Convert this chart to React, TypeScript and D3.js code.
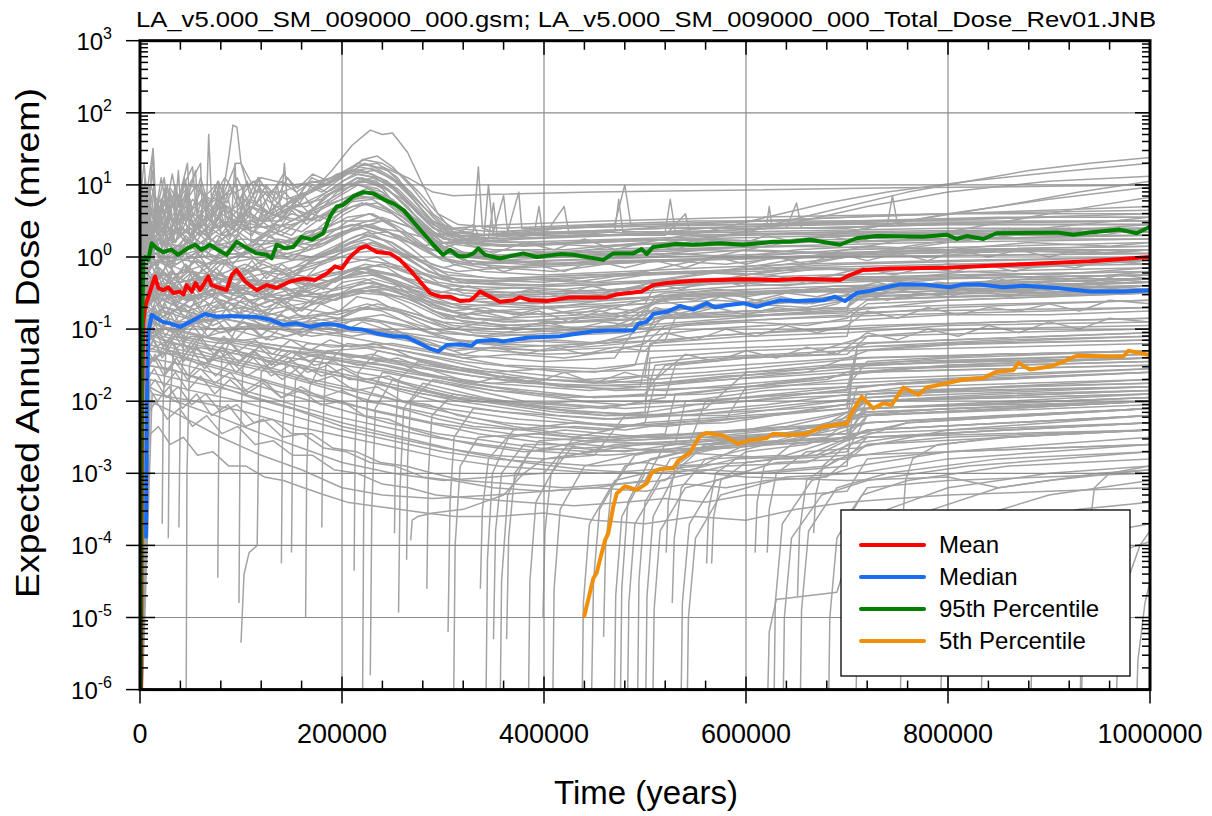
import React from "react";
import * as d3 from "d3";

// ---------- DATA (time in thousands of years, value = log10 of dose in mrem) ----------
const titleText = "LA_v5.000_SM_009000_000.gsm; LA_v5.000_SM_009000_000_Total_Dose_Rev01.JNB";
const xTickValues = [0, 200000, 400000, 600000, 800000, 1000000];
const yDecades = [-6, -5, -4, -3, -2, -1, 0, 1, 2, 3];
const legendLabels = ["Mean", "Median", "95th Percentile", "5th Percentile"];

const meanSeries = [0.8,-7, 2,-2.0, 3.3,-0.9, 5,-0.69, 9.9,-0.48, 14.9,-0.27, 18.1,-0.43, 23,-0.46, 28,-0.42, 32.9,-0.50, 39.6,-0.48, 43,-0.52, 46.2,-0.39, 51.2,-0.48, 55,-0.36, 59.4,-0.46, 67.6,-0.27, 70.9,-0.39, 79.2,-0.43, 85.8,-0.46, 90.8,-0.25, 95.7,-0.18, 104,-0.34, 115.5,-0.46, 125.4,-0.39, 135.3,-0.43, 148.5,-0.34, 161.7,-0.30, 173.3,-0.32, 184.9,-0.23, 193.1,-0.13, 199.7,-0.16, 207.9,0.0, 217.8,0.12, 224.4,0.15, 234.4,0.07, 247.5,0.05, 257.4,-0.04, 267.3,-0.18, 277.2,-0.34, 287.1,-0.50, 297,-0.55, 306.9,-0.55, 316.8,-0.61, 326.7,-0.60, 330,-0.57, 336.6,-0.48, 346.5,-0.55, 356.4,-0.62, 369.6,-0.60, 376.2,-0.56, 386.1,-0.60, 402.6,-0.61, 425.7,-0.56, 462,-0.56, 471.9,-0.52, 496.7,-0.48, 508.2,-0.39, 521.5,-0.36, 547.8,-0.33, 597.3,-0.31, 630.4,-0.32, 653.5,-0.30, 693.1,-0.32, 702.9,-0.25, 716.1,-0.18, 742.6,-0.16, 798.7,-0.15, 874.6,-0.10, 940.6,-0.06, 1000,0.0];

const medianSeries = [6.0,-3.88, 6.8,-2.0, 8.2,-1.06, 11.6,-0.80, 16.5,-0.85, 23,-0.90, 29.4,-0.92, 39.6,-0.97, 49.5,-0.90, 64.4,-0.79, 76,-0.83, 89.1,-0.82, 102.3,-0.83, 115.5,-0.83, 128.7,-0.87, 141.9,-0.94, 155.1,-0.92, 168.3,-0.97, 181.5,-0.93, 194.7,-0.94, 207.9,-0.99, 221.1,-1.01, 234.3,-1.06, 250.8,-1.10, 264,-1.11, 277.2,-1.20, 287.1,-1.27, 295.3,-1.31, 303.6,-1.22, 316.8,-1.21, 328.4,-1.23, 333.4,-1.17, 349.8,-1.15, 359.7,-1.17, 382.9,-1.12, 415.8,-1.10, 448.8,-1.03, 465.3,-1.02, 488.4,-1.02, 493.4,-0.93, 501.7,-0.90, 508.2,-0.79, 521.5,-0.76, 534.7,-0.68, 547.8,-0.73, 561.1,-0.64, 569.3,-0.70, 580.9,-0.67, 597.3,-0.64, 610.6,-0.69, 633.7,-0.60, 650,-0.61, 676.5,-0.60, 688,-0.55, 698,-0.61, 709.6,-0.50, 722.8,-0.47, 742.6,-0.41, 752.5,-0.38, 775.5,-0.38, 802,-0.42, 815.1,-0.38, 831.7,-0.38, 854.8,-0.42, 874.6,-0.40, 907.6,-0.43, 940.6,-0.48, 973.6,-0.48, 1000,-0.46];

const p95Series = [0.3,-7, 1.5,-1.5, 3.3,-0.04, 5,0.0, 8.2,-0.04, 11.6,0.19, 16.5,0.12, 23,0.07, 31.4,0.10, 37.6,0.03, 47.5,0.125, 54.5,0.17, 61,0.10, 69.3,0.17, 77,0.10, 85.8,0.03, 95.7,0.21, 104,0.14, 115.5,0.05, 125.4,0.03, 130.4,-0.02, 135.3,0.17, 143.6,0.12, 151.8,0.14, 160,0.28, 170,0.24, 181.5,0.33, 188,0.56, 194.7,0.70, 201,0.72, 211,0.84, 221,0.90, 231,0.88, 241,0.80, 251,0.74, 261,0.65, 270.6,0.49, 280.5,0.33, 290.4,0.17, 300,0.03, 307,0.10, 315,0.01, 323.5,0.01, 330,0.05, 335,0.12, 341.6,0.03, 356,-0.02, 379.5,0.05, 392.8,0.0, 415.8,0.04, 429,0.03, 458.7,-0.04, 468.6,0.05, 488.4,0.05, 496.7,0.11, 501.7,0.04, 508,0.14, 531.4,0.18, 547.8,0.17, 574.3,0.19, 597.3,0.17, 627,0.21, 643.6,0.21, 663.4,0.24, 693,0.17, 709.6,0.26, 729.4,0.29, 775.5,0.28, 798.7,0.31, 808.6,0.25, 818.5,0.29, 835,0.25, 848,0.33, 907.6,0.34, 924,0.31, 940.6,0.34, 970,0.38, 986.8,0.33, 1000,0.42];

const p5Series = [439.9,-4.98, 448.8,-4.46, 452.2,-4.38, 455.4,-4.20, 460.4,-3.93, 463.7,-3.83, 468.6,-3.46, 472,-3.28, 480.2,-3.18, 491.8,-3.23, 501.7,-3.14, 506.6,-2.99, 514.9,-2.94, 528,-2.93, 533,-2.82, 544.6,-2.71, 554.5,-2.48, 561.1,-2.44, 577.5,-2.48, 592.4,-2.59, 600.7,-2.55, 620.5,-2.51, 627,-2.45, 643.6,-2.47, 660.1,-2.45, 676.5,-2.35, 699.7,-2.31, 706.2,-2.12, 714.6,-1.94, 726,-2.10, 736,-2.03, 744.3,-2.05, 755.7,-1.81, 770.6,-1.91, 778.9,-1.81, 798.7,-1.75, 815.1,-1.70, 835,-1.68, 848.2,-1.59, 864.7,-1.57, 869.6,-1.47, 881.2,-1.56, 901,-1.52, 914.2,-1.45, 927.4,-1.37, 973.6,-1.38, 978.5,-1.30, 1000,-1.36];

// Individual realizations (gray), grouped by appearance
const highEarly = [
  [0,-7, 3,0.2, 10,0.4, 20,0.1, 35,0.5, 50,0.3, 70,0.6, 90,0.4, 110,0.7, 130,0.5, 150,0.8, 170,0.9, 190,1.2, 210,1.55, 228,1.76, 240,1.7, 250,1.72, 265,1.45, 280,1.0, 295,0.6, 310,0.35, 330,0.2, 380,0.15, 450,0.2, 550,0.25, 650,0.2, 800,0.25, 1000,0.3],
  [0,-7, 4,0.0, 12,0.5, 25,0.3, 40,0.6, 60,0.4, 80,0.7, 88,1.4, 92,1.83, 96,1.8, 100,1.3, 110,0.8, 130,0.6, 150,0.5, 175,0.7, 200,0.9, 220,1.1, 240,0.95, 260,0.6, 280,0.3, 300,0.1, 340,0.0, 420,0.05, 520,0.1, 650,0.15, 800,0.1, 1000,0.15],
  [0,-7, 2,0.3, 8,1.0, 13,1.5, 16,0.6, 30,0.8, 45,0.5, 60,0.9, 75,0.6, 95,1.3, 100,1.3, 115,0.9, 140,0.9, 160,1.0, 190,1.1, 210,1.25, 235,1.3, 255,1.1, 270,0.8, 290,0.5, 310,0.35, 350,0.3, 450,0.35, 550,0.3, 700,0.35, 850,0.3, 1000,0.4],
  [0,-7, 3,0.0, 15,0.4, 30,0.7, 50,1.0, 70,0.8, 95,0.9, 120,1.1, 150,1.0, 180,1.05, 210,1.2, 240,1.25, 265,1.1, 290,0.9, 310,0.85, 350,0.87, 450,0.9, 600,0.93, 750,0.96, 900,0.98, 1000,1.0],
  [0,-7, 2,-0.5, 10,0.2, 20,0.6, 28,0.2, 47,1.3, 50,0.5, 65,0.3, 68,1.7, 72,0.4, 90,0.5, 110,0.3, 130,0.6, 160,0.5, 190,0.9, 215,1.1, 240,1.0, 265,0.7, 285,0.35, 300,0.1, 330,-0.1, 400,-0.05, 500,0.0, 600,0.1, 700,0.05, 800,0.1, 1000,0.05],
  [0,-7, 5,0.6, 12,0.2, 22,0.8, 35,0.4, 45,0.9, 60,1.3, 62,0.5, 80,0.7, 100,0.5, 125,0.9, 140,0.7, 165,0.9, 195,1.15, 220,1.2, 245,1.05, 270,0.7, 290,0.4, 320,0.25, 380,0.3, 460,0.35, 540,0.45, 620,0.5, 700,0.55, 800,0.6, 900,0.65, 1000,0.7],
  [0,-7, 3,0.1, 10,0.3, 20,0.0, 35,0.4, 50,0.1, 70,0.5, 90,0.2, 110,0.5, 140,0.3, 170,0.6, 200,0.8, 225,0.95, 250,0.8, 275,0.5, 300,0.2, 330,0.0, 400,-0.1, 500,-0.05, 600,0.0, 700,0.1, 850,0.15, 1000,0.2],
  [0,-7, 2,0.4, 9,0.7, 18,0.3, 30,0.9, 38,0.5, 55,0.7, 75,1.0, 85,0.6, 105,0.8, 130,0.6, 155,0.8, 185,1.0, 205,1.2, 230,1.15, 250,1.0, 275,0.6, 300,0.3, 330,0.2, 380,0.25, 480,0.3, 560,0.4, 650,0.45, 760,0.5, 880,0.55, 1000,0.6],
  [0,-7, 4,-0.3, 15,0.2, 30,-0.1, 45,0.3, 65,0.0, 85,0.4, 105,0.1, 130,0.35, 160,0.2, 185,0.5, 210,0.7, 235,0.75, 260,0.5, 285,0.2, 310,-0.1, 340,-0.2, 400,-0.25, 480,-0.2, 560,-0.15, 650,-0.1, 800,-0.05, 1000,0.0],
  [0,-7, 1,0.5, 6,0.9, 14,0.5, 24,1.1, 28,0.6, 40,0.9, 52,1.25, 56,0.6, 75,0.8, 98,0.6, 120,1.0, 145,0.8, 175,0.95, 200,1.1, 222,1.3, 245,1.2, 268,0.9, 290,0.55, 310,0.3, 340,0.3, 420,0.4, 500,0.45, 600,0.5, 700,0.55, 800,0.6, 1000,0.65],
  [0,-7, 3,0.2, 11,0.6, 19,0.4, 27,1.0, 31,0.5, 45,0.7, 62,0.5, 78,0.8, 96,1.0, 100,0.6, 120,0.5, 150,0.7, 180,0.8, 205,1.0, 230,1.1, 255,0.95, 280,0.6, 300,0.35, 320,0.2, 360,0.15, 420,0.2, 500,0.25, 600,0.2, 700,0.25, 850,0.3, 1000,0.3],
  [0,-7, 4,0.4, 12,0.0, 25,0.5, 35,0.2, 50,0.6, 68,0.3, 85,0.7, 105,0.4, 125,0.8, 145,0.6, 165,1.0, 180,0.9, 200,1.1, 220,1.35, 235,1.4, 250,1.25, 270,0.95, 290,0.6, 310,0.4, 350,0.35, 420,0.4, 500,0.45, 600,0.45, 750,0.5, 900,0.55, 1000,0.55],
  [0,-7, 2,0.0, 7,0.5, 15,0.2, 22,0.7, 26,0.3, 38,0.4, 48,0.2, 60,0.5, 80,0.3, 100,0.5, 125,0.4, 150,0.6, 178,0.5, 200,0.7, 225,0.9, 250,0.75, 275,0.45, 300,0.15, 330,0.0, 380,0.05, 450,0.1, 550,0.15, 650,0.2, 800,0.25, 1000,0.3],
  [0,-7, 5,0.3, 20,0.5, 40,0.3, 60,0.6, 80,0.4, 100,0.7, 120,0.5, 140,0.8, 143,1.3, 146,0.7, 165,0.6, 190,0.9, 215,1.0, 240,0.9, 265,0.6, 290,0.3, 320,0.2, 340,0.2, 345,1.0, 350,0.3, 400,0.3, 420,0.7, 425,0.3, 520,0.3, 540,0.6, 545,0.3, 700,0.35, 1000,0.4],
  [0,-7, 1,-0.3, 6,0.2, 16,-0.1, 26,0.3, 42,0.0, 58,0.35, 72,0.1, 92,0.4, 112,0.2, 135,0.45, 160,0.35, 185,0.6, 210,0.85, 232,0.9, 255,0.7, 280,0.35, 305,0.1, 330,-0.1, 380,-0.15, 450,-0.1, 540,-0.05, 640,0.0, 760,0.05, 880,0.1, 1000,0.1],
  [0,-7, 2,0.4, 6,0.8, 9,0.4, 14,0.9, 19,0.5, 24,0.95, 29,0.55, 35,1.0, 41,0.6, 47,0.9, 53,0.55, 60,1.0, 67,0.65, 74,0.95, 81,0.6, 89,1.0, 97,0.7, 106,1.05, 115,0.75, 125,1.0, 135,0.8, 146,1.1, 157,0.85, 170,1.1, 185,1.0, 200,1.15, 215,1.3, 232,1.25, 250,1.1, 268,0.85, 285,0.55, 305,0.35, 340,0.3, 420,0.35, 520,0.4, 650,0.4, 800,0.45, 1000,0.45],
  [0,-7, 3,0.7, 7,0.3, 11,0.85, 16,0.35, 21,0.8, 27,0.4, 33,0.85, 39,0.45, 46,0.9, 53,0.4, 61,0.8, 69,0.5, 78,0.9, 87,0.5, 97,0.85, 107,0.55, 118,0.95, 130,0.6, 143,0.9, 156,0.7, 170,1.0, 185,0.9, 200,1.05, 216,1.15, 233,1.1, 250,0.95, 268,0.7, 286,0.45, 305,0.3, 350,0.25, 450,0.3, 560,0.35, 700,0.3, 850,0.35, 1000,0.35],
  [0,-7, 2,0.6, 5,1.1, 8,0.6, 12,1.2, 16,0.65, 21,1.1, 26,0.7, 32,1.15, 38,0.7, 45,1.05, 52,0.65, 60,1.1, 68,0.7, 77,1.05, 86,0.75, 96,1.1, 106,0.8, 117,1.1, 129,0.85, 142,1.15, 156,0.95, 171,1.15, 187,1.05, 204,1.2, 222,1.35, 240,1.3, 258,1.15, 276,0.9, 295,0.6, 315,0.45, 360,0.4, 450,0.45, 550,0.5, 700,0.5, 850,0.55, 1000,0.55],
  [0,-7, 3,0.2, 8,0.65, 13,0.25, 19,0.7, 25,0.3, 32,0.75, 39,0.3, 47,0.7, 55,0.35, 64,0.8, 73,0.4, 83,0.75, 93,0.4, 104,0.8, 115,0.45, 127,0.85, 140,0.5, 154,0.8, 168,0.6, 183,0.85, 199,0.95, 216,1.1, 234,1.05, 252,0.85, 271,0.6, 290,0.35, 310,0.2, 360,0.15, 440,0.2, 540,0.25, 680,0.2, 840,0.25, 1000,0.25],
  [0,-7, 1,0.9, 4,1.3, 7,0.8, 10,1.0, 18,0.75, 30,0.95, 42,0.7, 56,1.0, 70,0.75, 84,1.1, 98,0.8, 112,1.05, 126,0.85, 140,1.05, 155,0.9, 170,1.05, 186,1.0, 202,1.15, 218,1.25, 235,1.2, 252,1.05, 270,0.8, 288,0.5, 310,0.4, 360,0.45, 460,0.5, 600,0.55, 800,0.6, 1000,0.6],
  [0,-7, 2,0.1, 6,0.5, 10,0.15, 15,0.55, 21,0.15, 28,0.55, 35,0.2, 43,0.6, 51,0.2, 60,0.6, 69,0.25, 79,0.65, 89,0.25, 100,0.6, 111,0.3, 123,0.65, 136,0.35, 150,0.65, 165,0.45, 181,0.7, 198,0.85, 216,1.0, 235,0.95, 254,0.75, 273,0.45, 293,0.2, 315,0.05, 370,0.0, 460,0.05, 560,0.1, 700,0.05, 850,0.1, 1000,0.1],
];

const spikyEarly = [
  [0,-7, 2,0.2, 5,0.9, 7,0.3, 13,1.5, 15,0.4, 25,0.6, 32,0.2, 40,0.7, 44,1.1, 48,0.5, 58,0.3, 64,0.9, 66,0.3, 80,0.5, 90,0.3, 110,0.6, 130,0.4, 150,0.7, 170,0.5, 200,0.75, 230,0.8, 260,0.55, 290,0.2, 320,0.0, 400,-0.1, 520,-0.05, 700,0.0, 1000,0.05],
  [0,-7, 3,0.5, 8,0.1, 18,0.8, 20,0.2, 35,0.9, 37,0.3, 55,1.2, 58,0.4, 75,0.6, 82,1.0, 85,0.4, 105,0.6, 118,1.1, 121,0.5, 140,0.5, 160,0.9, 175,0.6, 195,0.9, 220,1.05, 245,0.95, 270,0.6, 295,0.3, 330,0.15, 420,0.2, 540,0.25, 700,0.3, 1000,0.35],
  [0,-7, 2,0.0, 10,0.6, 12,0.1, 26,0.4, 30,0.9, 33,0.2, 50,0.4, 60,0.1, 74,0.5, 78,1.05, 80,0.3, 96,0.3, 108,0.8, 110,0.2, 130,0.4, 150,0.3, 170,0.6, 190,0.5, 215,0.85, 240,0.8, 265,0.5, 290,0.2, 320,-0.05, 380,-0.1, 480,-0.05, 650,0.0, 1000,0.05],
  [0,-7, 4,0.3, 9,1.0, 11,0.4, 21,0.7, 34,0.5, 38,1.2, 41,0.5, 52,0.8, 70,0.6, 86,0.9, 92,0.5, 110,0.7, 128,0.6, 136,1.0, 140,0.6, 158,0.8, 180,1.0, 205,1.15, 232,1.2, 255,1.05, 280,0.7, 305,0.4, 340,0.3, 420,0.35, 520,0.4, 700,0.45, 1000,0.5],
  [0,-7, 1,0.3, 3,1.0, 5,0.5, 16,0.7, 23,0.3, 44,0.6, 60,0.35, 100,0.5, 102,1.0, 104,0.4, 150,0.45, 186,0.6, 212,0.8, 240,0.85, 270,0.55, 300,0.25, 360,0.2, 480,0.25, 600,0.3, 800,0.35, 1000,0.4],
  [0,-7, 2,-0.2, 6,0.4, 14,1.0, 17,0.3, 29,0.5, 47,0.9, 49,0.3, 66,0.7, 90,0.4, 94,1.3, 97,0.5, 115,0.5, 135,0.7, 165,0.7, 190,0.95, 212,1.15, 237,1.1, 260,0.85, 285,0.5, 310,0.3, 360,0.25, 460,0.3, 600,0.35, 800,0.4, 1000,0.4],
  [0,-7, 4,0.0, 50,0.2, 120,0.1, 200,0.5, 250,0.5, 290,0.3, 330,0.35, 335,1.25, 339,0.4, 350,0.35, 360,0.85, 364,0.35, 375,0.9, 378,0.4, 400,0.4, 600,0.45, 1000,0.5],
  [0,-7, 5,-0.1, 60,0.1, 140,0.2, 210,0.45, 260,0.35, 300,0.2, 345,0.25, 350,0.75, 354,0.25, 390,0.3, 395,0.7, 399,0.3, 430,0.3, 470,0.35, 474,0.8, 478,0.35, 560,0.35, 620,0.4, 623,0.7, 626,0.4, 700,0.4, 740,0.45, 745,0.85, 750,0.45, 1000,0.45],
];

const bandMiddle = [
  [0,-7, 3,-0.4, 15,-0.2, 40,-0.35, 70,-0.25, 100,-0.4, 150,-0.3, 200,-0.2, 240,-0.1, 280,-0.3, 320,-0.5, 400,-0.55, 500,-0.5, 600,-0.4, 700,-0.35, 800,-0.3, 1000,-0.25],
  [0,-7, 4,-0.6, 20,-0.5, 50,-0.6, 90,-0.45, 130,-0.6, 180,-0.5, 230,-0.35, 270,-0.5, 310,-0.7, 380,-0.8, 460,-0.75, 520,-0.5, 600,-0.45, 700,-0.4, 850,-0.35, 1000,-0.3],
  [0,-7, 2,-0.2, 10,0.0, 30,-0.15, 55,0.05, 80,-0.1, 120,0.0, 170,-0.05, 220,0.2, 260,0.05, 300,-0.2, 350,-0.3, 450,-0.25, 550,-0.2, 700,-0.1, 850,-0.05, 1000,0.0],
  [0,-7, 6,-0.9, 25,-0.7, 60,-0.8, 100,-0.7, 150,-0.85, 200,-0.75, 250,-0.7, 300,-0.9, 380,-1.0, 480,-0.95, 560,-0.7, 650,-0.6, 720,-0.5, 850,-0.45, 1000,-0.4],
  [0,-7, 3,-0.5, 12,-0.3, 28,-0.45, 48,-0.2, 70,-0.4, 95,-0.25, 125,-0.45, 160,-0.3, 200,-0.1, 235,0.0, 270,-0.25, 310,-0.45, 380,-0.5, 470,-0.45, 560,-0.35, 700,-0.3, 1000,-0.2],
  [0,-7, 5,-1.0, 20,-0.8, 45,-0.95, 80,-0.85, 130,-1.0, 190,-0.9, 240,-0.8, 290,-1.0, 360,-1.15, 440,-1.2, 500,-1.1, 520,-0.8, 600,-0.75, 700,-0.7, 720,-0.5, 850,-0.45, 1000,-0.4],
  [0,-7, 2,-0.1, 9,0.15, 22,-0.05, 40,0.1, 65,-0.1, 90,0.05, 120,-0.05, 160,0.1, 200,0.35, 230,0.45, 260,0.25, 300,-0.05, 340,-0.15, 420,-0.1, 520,-0.05, 620,0.0, 760,0.05, 1000,0.1],
  [0,-7, 4,-0.7, 18,-0.55, 38,-0.7, 62,-0.5, 90,-0.65, 130,-0.55, 175,-0.65, 220,-0.5, 260,-0.55, 300,-0.8, 360,-0.9, 440,-0.85, 500,-0.8, 510,-0.55, 600,-0.5, 700,-0.45, 800,-0.4, 1000,-0.35],
  [0,-7, 3,-0.3, 14,-0.1, 32,-0.3, 56,-0.05, 78,-0.25, 104,-0.1, 138,-0.3, 172,-0.15, 208,0.05, 238,0.1, 265,-0.1, 295,-0.35, 340,-0.45, 420,-0.4, 520,-0.35, 650,-0.3, 800,-0.25, 1000,-0.2],
  [0,-7, 7,-1.1, 30,-0.9, 70,-1.0, 120,-0.95, 170,-1.1, 220,-1.0, 270,-1.1, 320,-1.25, 400,-1.3, 480,-1.25, 560,-1.2, 700,-1.1, 705,-0.8, 800,-0.7, 900,-0.65, 1000,-0.6],
  [0,-7, 2,-0.45, 8,-0.25, 18,-0.4, 30,-0.2, 46,-0.35, 66,-0.15, 86,-0.3, 110,-0.15, 140,-0.25, 175,-0.1, 205,0.1, 230,0.2, 255,0.05, 285,-0.2, 320,-0.35, 400,-0.3, 500,-0.25, 600,-0.2, 750,-0.15, 1000,-0.1],
  [0,-7, 5,-0.8, 22,-0.6, 48,-0.75, 80,-0.6, 118,-0.75, 160,-0.65, 205,-0.5, 245,-0.45, 285,-0.65, 330,-0.85, 420,-0.9, 500,-0.85, 600,-0.75, 700,-0.7, 710,-0.45, 850,-0.4, 1000,-0.35],
  [0,-7, 3,-0.15, 16,0.05, 36,-0.1, 60,0.1, 84,-0.05, 112,0.1, 145,0.0, 180,0.15, 215,0.4, 240,0.5, 265,0.3, 295,0.0, 330,-0.1, 420,-0.05, 520,0.0, 650,0.05, 800,0.1, 1000,0.15],
  [0,-7, 6,-0.55, 26,-0.4, 52,-0.55, 82,-0.4, 115,-0.5, 150,-0.35, 190,-0.45, 230,-0.3, 270,-0.45, 310,-0.6, 390,-0.65, 470,-0.6, 560,-0.5, 660,-0.45, 780,-0.4, 1000,-0.3],
  [0,-7, 4,-0.35, 11,-0.55, 24,-0.3, 42,-0.5, 64,-0.3, 92,-0.5, 122,-0.35, 155,-0.5, 192,-0.3, 228,-0.2, 258,-0.35, 298,-0.55, 350,-0.65, 430,-0.6, 510,-0.55, 600,-0.5, 720,-0.45, 860,-0.4, 1000,-0.35],
  [0,-7, 8,-1.3, 35,-1.1, 80,-1.2, 130,-1.1, 190,-1.25, 250,-1.2, 310,-1.35, 400,-1.45, 470,-1.4, 490,-1.0, 560,-0.9, 650,-0.85, 750,-0.8, 900,-0.75, 1000,-0.7],
  [0,-7, 2,-0.05, 12,0.2, 26,0.0, 44,0.25, 58,0.05, 76,0.3, 98,0.1, 124,0.3, 150,0.15, 178,0.35, 205,0.55, 230,0.6, 258,0.4, 288,0.1, 320,0.0, 400,0.05, 500,0.1, 620,0.15, 780,0.2, 1000,0.25],
  [0,-7, 5,-0.65, 20,-0.85, 40,-0.7, 70,-0.9, 105,-0.75, 145,-0.9, 185,-0.8, 225,-0.65, 265,-0.8, 305,-1.0, 370,-1.05, 450,-1.0, 540,-0.9, 630,-0.8, 700,-0.75, 800,-0.6, 1000,-0.5],
  [0,-7, 3,-0.25, 10,-0.45, 22,-0.2, 36,-0.4, 52,-0.2, 72,-0.4, 96,-0.25, 124,-0.4, 156,-0.25, 190,-0.35, 222,-0.15, 252,-0.25, 282,-0.45, 330,-0.55, 420,-0.5, 520,-0.4, 620,-0.35, 760,-0.3, 1000,-0.25],
  [0,-7, 6,-0.95, 24,-0.75, 56,-0.9, 96,-0.8, 140,-0.95, 190,-0.85, 240,-0.9, 290,-1.05, 350,-1.1, 420,-1.05, 480,-1.0, 500,-0.75, 580,-0.65, 680,-0.6, 800,-0.55, 1000,-0.5],
  [0,-7, 3,0.0, 20,0.2, 60,0.1, 100,0.25, 150,0.2, 200,0.4, 240,0.55, 280,0.35, 310,0.3, 330,0.45, 335,0.3, 400,0.4, 470,0.45, 480,1.0, 486,0.45, 600,0.45, 700,0.5, 800,0.5, 900,0.5, 1000,0.5],
  [0,-7, 4,-0.2, 25,0.0, 70,-0.1, 120,0.1, 170,0.0, 215,0.3, 245,0.35, 275,0.15, 305,0.2, 340,0.3, 400,0.35, 460,0.3, 520,0.35, 525,0.8, 530,0.35, 640,0.4, 650,0.75, 655,0.4, 800,0.45, 1000,0.45],
  [0,-7, 3,-0.5, 10,-0.35, 20,-0.55, 35,-0.4, 50,-0.6, 70,-0.45, 90,-0.6, 115,-0.45, 140,-0.6, 170,-0.45, 200,-0.3, 230,-0.25, 260,-0.4, 290,-0.6, 340,-0.75, 420,-0.7, 500,-0.65, 510,-0.4, 620,-0.35, 760,-0.3, 1000,-0.25],
  [0,-7, 4,-0.75, 14,-0.6, 28,-0.8, 44,-0.65, 62,-0.8, 82,-0.6, 104,-0.75, 128,-0.6, 154,-0.75, 182,-0.6, 212,-0.45, 240,-0.5, 270,-0.65, 300,-0.85, 360,-0.95, 440,-0.9, 520,-0.85, 620,-0.8, 700,-0.75, 705,-0.55, 850,-0.5, 1000,-0.45],
  [0,-7, 2,-0.3, 7,-0.15, 16,-0.35, 27,-0.1, 39,-0.3, 53,-0.05, 68,-0.25, 84,-0.05, 102,-0.25, 122,-0.1, 146,-0.25, 172,-0.05, 198,0.15, 226,0.25, 252,0.1, 280,-0.15, 310,-0.35, 370,-0.4, 460,-0.35, 560,-0.3, 680,-0.25, 820,-0.2, 1000,-0.15],
  [0,-7, 5,-0.9, 16,-0.75, 32,-0.95, 50,-0.8, 72,-0.95, 96,-0.8, 124,-0.95, 156,-0.8, 190,-0.9, 224,-0.7, 256,-0.75, 286,-0.9, 330,-1.05, 400,-1.1, 480,-1.05, 520,-0.85, 620,-0.8, 720,-0.7, 860,-0.65, 1000,-0.6],
  [0,-7, 3,-0.2, 9,-0.4, 19,-0.15, 31,-0.35, 45,-0.1, 61,-0.3, 79,-0.05, 99,-0.25, 121,-0.05, 145,-0.2, 171,0.0, 197,0.1, 223,0.3, 249,0.2, 275,-0.05, 305,-0.25, 360,-0.3, 440,-0.25, 540,-0.2, 660,-0.15, 800,-0.1, 1000,-0.05],
  [0,-7, 6,-0.6, 18,-0.45, 34,-0.65, 52,-0.5, 74,-0.7, 98,-0.55, 124,-0.7, 152,-0.55, 182,-0.65, 214,-0.45, 244,-0.4, 274,-0.55, 304,-0.75, 360,-0.85, 440,-0.8, 520,-0.75, 600,-0.65, 700,-0.6, 820,-0.55, 1000,-0.5],
  [0,-7, 4,-1.05, 15,-0.9, 32,-1.05, 54,-0.9, 80,-1.05, 110,-0.95, 145,-1.1, 185,-0.95, 225,-0.85, 265,-0.95, 305,-1.15, 370,-1.25, 450,-1.2, 520,-1.15, 530,-0.85, 640,-0.8, 760,-0.75, 1000,-0.7],
  [0,-7, 3,-0.4, 11,-0.6, 23,-0.4, 37,-0.6, 53,-0.35, 71,-0.55, 91,-0.35, 113,-0.55, 137,-0.4, 163,-0.55, 191,-0.35, 219,-0.2, 247,-0.3, 277,-0.5, 310,-0.65, 380,-0.7, 460,-0.65, 540,-0.55, 640,-0.5, 760,-0.45, 1000,-0.4],
];

const bandDense = [
  [0,-7, 2,-0.3, 8,-0.5, 15,-0.3, 23,-0.55, 31,-0.35, 40,-0.6, 49,-0.4, 58,-0.6, 67,-0.35, 77,-0.55, 88,-0.35, 99,-0.55, 111,-0.4, 124,-0.6, 137,-0.4, 151,-0.55, 166,-0.35, 182,-0.45, 198,-0.25, 215,-0.15, 232,-0.2, 250,-0.35, 270,-0.55, 290,-0.7, 320,-0.8, 360,-0.75, 400,-0.8, 450,-0.7, 500,-0.65, 550,-0.5, 600,-0.55, 650,-0.45, 700,-0.5, 750,-0.35, 800,-0.4, 880,-0.3, 950,-0.35, 1000,-0.3],
  [0,-7, 3,-0.8, 9,-0.6, 17,-0.85, 25,-0.65, 34,-0.9, 44,-0.7, 55,-0.9, 66,-0.65, 78,-0.85, 90,-0.65, 103,-0.85, 117,-0.7, 131,-0.9, 146,-0.7, 162,-0.85, 179,-0.65, 197,-0.75, 215,-0.55, 234,-0.6, 254,-0.75, 275,-0.9, 300,-1.05, 340,-1.1, 380,-1.0, 420,-1.05, 470,-0.95, 510,-0.75, 560,-0.7, 610,-0.6, 660,-0.65, 710,-0.5, 760,-0.55, 820,-0.45, 900,-0.5, 1000,-0.45],
  [0,-7, 2,-0.05, 7,-0.25, 13,0.0, 20,-0.3, 28,-0.05, 36,-0.3, 45,-0.1, 54,-0.35, 64,-0.1, 75,-0.3, 86,-0.05, 98,-0.25, 111,-0.05, 125,-0.3, 140,-0.1, 156,-0.25, 172,0.0, 190,0.1, 208,0.25, 226,0.35, 245,0.2, 265,0.0, 285,-0.2, 310,-0.3, 350,-0.35, 400,-0.3, 450,-0.35, 500,-0.25, 560,-0.2, 620,-0.25, 680,-0.15, 740,-0.2, 800,-0.1, 870,-0.15, 940,-0.05, 1000,-0.1],
  [0,-7, 4,-1.0, 11,-0.8, 19,-1.05, 28,-0.85, 38,-1.1, 49,-0.9, 61,-1.1, 74,-0.85, 88,-1.05, 103,-0.9, 119,-1.1, 136,-0.9, 154,-1.05, 173,-0.9, 193,-1.0, 214,-0.85, 236,-0.9, 259,-1.05, 283,-1.2, 310,-1.3, 350,-1.25, 400,-1.3, 450,-1.2, 490,-1.05, 540,-0.95, 600,-0.9, 660,-0.95, 700,-0.85, 720,-0.65, 800,-0.6, 900,-0.55, 1000,-0.5],
  [0,-7, 2,-0.45, 6,-0.65, 12,-0.4, 19,-0.65, 27,-0.45, 36,-0.7, 46,-0.45, 57,-0.7, 69,-0.5, 82,-0.7, 96,-0.45, 111,-0.65, 127,-0.5, 144,-0.65, 162,-0.45, 181,-0.55, 201,-0.35, 222,-0.3, 244,-0.4, 266,-0.55, 290,-0.75, 320,-0.85, 370,-0.9, 420,-0.85, 470,-0.8, 520,-0.6, 570,-0.55, 630,-0.5, 690,-0.45, 750,-0.4, 820,-0.35, 900,-0.3, 1000,-0.3],
  [0,-7, 3,-0.15, 8,0.05, 14,-0.2, 21,0.0, 29,-0.25, 38,0.05, 47,-0.2, 57,0.05, 68,-0.15, 80,0.1, 92,-0.1, 105,0.1, 119,-0.1, 134,0.1, 150,-0.05, 167,0.15, 185,0.2, 204,0.35, 224,0.45, 245,0.35, 266,0.15, 288,-0.1, 315,-0.2, 360,-0.15, 410,-0.2, 460,-0.1, 520,-0.05, 580,-0.1, 640,0.0, 700,0.05, 780,0.0, 860,0.1, 940,0.05, 1000,0.1],
  [0,-7, 5,-0.7, 12,-0.5, 20,-0.75, 29,-0.5, 39,-0.75, 50,-0.55, 62,-0.8, 75,-0.55, 89,-0.75, 104,-0.55, 120,-0.8, 137,-0.6, 155,-0.75, 174,-0.55, 194,-0.6, 215,-0.45, 237,-0.5, 260,-0.65, 285,-0.85, 310,-0.95, 350,-1.0, 400,-0.95, 450,-1.0, 500,-0.9, 540,-0.7, 600,-0.65, 660,-0.7, 720,-0.55, 800,-0.5, 900,-0.45, 1000,-0.4],
  [0,-7, 2,-0.55, 7,-0.35, 13,-0.6, 20,-0.35, 28,-0.6, 37,-0.4, 47,-0.6, 58,-0.35, 70,-0.55, 83,-0.3, 97,-0.5, 112,-0.3, 128,-0.5, 145,-0.3, 163,-0.45, 182,-0.25, 202,-0.2, 223,-0.1, 245,-0.15, 268,-0.35, 292,-0.55, 320,-0.6, 370,-0.55, 420,-0.6, 470,-0.5, 520,-0.45, 580,-0.35, 640,-0.4, 700,-0.3, 760,-0.35, 840,-0.25, 920,-0.3, 1000,-0.2],
  [0,-7, 4,-0.9, 10,-1.1, 17,-0.85, 25,-1.1, 34,-0.9, 44,-1.15, 55,-0.9, 67,-1.1, 80,-0.95, 94,-1.15, 109,-0.95, 125,-1.15, 142,-0.95, 160,-1.1, 179,-0.95, 199,-1.05, 220,-0.9, 242,-1.0, 265,-1.15, 290,-1.3, 320,-1.4, 370,-1.35, 420,-1.4, 470,-1.3, 500,-1.2, 520,-0.95, 580,-0.9, 640,-0.85, 700,-0.8, 720,-0.6, 800,-0.55, 900,-0.5, 1000,-0.5],
  [0,-7, 3,-0.25, 9,-0.45, 16,-0.2, 24,-0.45, 33,-0.2, 43,-0.45, 54,-0.25, 66,-0.45, 79,-0.2, 93,-0.4, 108,-0.2, 124,-0.4, 141,-0.2, 159,-0.35, 178,-0.1, 198,0.05, 219,0.15, 240,0.1, 262,-0.1, 285,-0.35, 310,-0.45, 360,-0.5, 410,-0.45, 460,-0.5, 510,-0.35, 570,-0.3, 630,-0.35, 690,-0.25, 750,-0.3, 820,-0.2, 900,-0.25, 1000,-0.15],
  [0,-7, 6,-1.2, 14,-1.0, 23,-1.25, 33,-1.05, 44,-1.3, 56,-1.1, 69,-1.3, 83,-1.1, 98,-1.3, 114,-1.15, 131,-1.35, 149,-1.15, 168,-1.3, 188,-1.15, 209,-1.25, 231,-1.2, 254,-1.3, 278,-1.45, 305,-1.55, 350,-1.6, 400,-1.55, 450,-1.6, 490,-1.5, 500,-1.1, 560,-1.0, 620,-0.95, 680,-0.9, 740,-0.85, 800,-0.8, 900,-0.8, 1000,-0.75],
  [0,-7, 2,0.05, 6,-0.15, 11,0.1, 17,-0.15, 24,0.1, 32,-0.1, 41,0.15, 51,-0.1, 62,0.15, 74,-0.05, 87,0.2, 101,0.0, 116,0.2, 132,0.0, 149,0.2, 167,0.1, 186,0.3, 206,0.5, 227,0.6, 249,0.45, 271,0.2, 295,0.0, 320,-0.1, 370,-0.05, 420,-0.1, 470,0.0, 530,0.05, 590,0.0, 650,0.1, 720,0.15, 800,0.1, 880,0.2, 960,0.15, 1000,0.2],
  [0,-7, 4,-0.6, 10,-0.8, 17,-0.55, 25,-0.8, 34,-0.6, 44,-0.85, 55,-0.6, 67,-0.85, 80,-0.65, 94,-0.85, 109,-0.6, 125,-0.8, 142,-0.6, 160,-0.75, 179,-0.55, 199,-0.5, 220,-0.35, 242,-0.4, 265,-0.55, 290,-0.75, 320,-0.9, 370,-0.95, 420,-0.9, 470,-0.85, 510,-0.65, 570,-0.6, 630,-0.65, 690,-0.55, 740,-0.5, 820,-0.45, 900,-0.5, 1000,-0.4],
  [0,-7, 3,-0.35, 7,-0.15, 12,-0.4, 18,-0.15, 25,-0.4, 33,-0.2, 42,-0.45, 52,-0.2, 63,-0.4, 75,-0.15, 88,-0.35, 102,-0.15, 117,-0.35, 133,-0.15, 150,-0.3, 168,-0.05, 187,0.05, 207,0.2, 228,0.3, 250,0.2, 273,0.0, 297,-0.25, 330,-0.35, 380,-0.3, 430,-0.35, 480,-0.25, 540,-0.2, 600,-0.25, 660,-0.15, 720,-0.2, 800,-0.1, 880,-0.15, 1000,-0.05],
  [0,-7, 5,-1.35, 13,-1.15, 22,-1.4, 32,-1.2, 43,-1.45, 55,-1.25, 68,-1.45, 82,-1.25, 97,-1.45, 113,-1.3, 130,-1.5, 148,-1.3, 167,-1.45, 187,-1.3, 208,-1.4, 230,-1.35, 253,-1.45, 277,-1.6, 305,-1.7, 350,-1.75, 400,-1.7, 450,-1.75, 500,-1.65, 505,-1.2, 560,-1.1, 620,-1.05, 700,-1.0, 760,-0.95, 850,-0.9, 1000,-0.85],
  [0,-7, 2,-0.75, 8,-0.95, 15,-0.7, 23,-0.95, 32,-0.75, 42,-1.0, 53,-0.75, 65,-1.0, 78,-0.8, 92,-1.0, 107,-0.8, 123,-1.0, 140,-0.8, 158,-0.95, 177,-0.8, 197,-0.85, 218,-0.7, 240,-0.75, 263,-0.9, 288,-1.05, 315,-1.15, 360,-1.2, 410,-1.15, 460,-1.2, 500,-1.1, 510,-0.85, 570,-0.8, 640,-0.75, 700,-0.7, 710,-0.55, 800,-0.5, 900,-0.45, 1000,-0.45],
  [0,-7, 3,0.15, 8,-0.05, 14,0.2, 21,-0.05, 29,0.2, 38,0.0, 48,0.25, 59,0.0, 71,0.25, 84,0.05, 98,0.3, 113,0.05, 129,0.3, 146,0.1, 164,0.35, 183,0.4, 203,0.6, 224,0.75, 246,0.65, 269,0.4, 293,0.15, 320,0.05, 370,0.1, 420,0.05, 470,0.15, 530,0.2, 590,0.15, 650,0.25, 720,0.3, 800,0.25, 880,0.35, 1000,0.35],
  [0,-7, 4,-0.5, 11,-0.3, 19,-0.55, 28,-0.3, 38,-0.55, 49,-0.35, 61,-0.55, 74,-0.3, 88,-0.5, 103,-0.3, 119,-0.5, 136,-0.35, 154,-0.5, 173,-0.3, 193,-0.35, 214,-0.2, 236,-0.25, 259,-0.4, 283,-0.6, 310,-0.7, 360,-0.65, 410,-0.7, 460,-0.6, 510,-0.55, 570,-0.45, 630,-0.5, 690,-0.4, 760,-0.45, 840,-0.35, 920,-0.4, 1000,-0.35],
  [0,-7, 6,-1.55, 15,-1.35, 25,-1.6, 36,-1.4, 48,-1.65, 61,-1.45, 75,-1.65, 90,-1.45, 106,-1.65, 123,-1.5, 141,-1.7, 160,-1.5, 180,-1.65, 201,-1.55, 223,-1.7, 246,-1.65, 270,-1.8, 296,-1.9, 330,-2.0, 380,-2.05, 430,-2.0, 480,-2.05, 520,-1.95, 530,-1.5, 600,-1.4, 680,-1.35, 720,-1.2, 800,-1.15, 900,-1.1, 1000,-1.05],
  [0,-7, 5,-1.75, 14,-1.55, 24,-1.8, 35,-1.6, 47,-1.85, 60,-1.65, 74,-1.9, 89,-1.7, 105,-1.9, 122,-1.75, 140,-1.95, 159,-1.8, 179,-1.95, 200,-1.85, 222,-2.0, 245,-2.05, 270,-2.15, 296,-2.25, 330,-2.35, 380,-2.4, 430,-2.35, 480,-2.4, 530,-2.3, 580,-2.25, 600,-1.8, 680,-1.7, 720,-1.5, 800,-1.45, 900,-1.4, 1000,-1.35],
];

const bandLate = [
  [0,-7, 3,-0.55, 20,-0.4, 45,-0.6, 75,-0.45, 110,-0.6, 150,-0.45, 190,-0.55, 230,-0.4, 270,-0.55, 310,-0.75, 340,-0.7, 370,-0.8, 400,-0.7, 430,-0.8, 460,-0.7, 490,-0.75, 520,-0.55, 550,-0.6, 580,-0.5, 610,-0.6, 640,-0.5, 670,-0.55, 700,-0.45, 730,-0.35, 760,-0.45, 790,-0.35, 820,-0.4, 850,-0.3, 880,-0.4, 910,-0.3, 940,-0.35, 970,-0.25, 1000,-0.3],
  [0,-7, 4,-0.85, 25,-0.7, 50,-0.85, 80,-0.7, 115,-0.85, 155,-0.7, 195,-0.8, 235,-0.65, 275,-0.8, 310,-1.0, 340,-0.9, 370,-1.0, 400,-0.9, 430,-1.0, 460,-0.9, 490,-0.95, 510,-0.7, 540,-0.8, 570,-0.7, 600,-0.8, 630,-0.7, 660,-0.75, 690,-0.65, 710,-0.5, 740,-0.6, 770,-0.5, 800,-0.55, 830,-0.45, 860,-0.55, 890,-0.45, 920,-0.5, 950,-0.4, 1000,-0.45],
  [0,-7, 2,-0.2, 20,-0.05, 45,-0.2, 75,-0.05, 110,-0.2, 150,-0.05, 190,0.05, 230,0.2, 270,0.0, 300,-0.15, 330,-0.05, 360,-0.2, 390,-0.1, 420,-0.2, 450,-0.05, 480,-0.15, 510,-0.05, 540,-0.15, 570,0.0, 600,-0.1, 630,0.0, 660,-0.1, 690,0.05, 720,-0.05, 750,0.05, 780,-0.05, 810,0.1, 840,0.0, 870,0.1, 900,0.0, 930,0.1, 960,0.05, 1000,0.1],
  [0,-7, 5,-1.15, 25,-1.0, 55,-1.15, 90,-1.0, 130,-1.15, 170,-1.0, 210,-1.1, 250,-1.0, 290,-1.2, 320,-1.35, 350,-1.25, 380,-1.35, 410,-1.25, 440,-1.35, 470,-1.25, 500,-1.3, 520,-1.05, 550,-1.15, 580,-1.0, 610,-1.1, 640,-0.95, 670,-1.05, 700,-0.95, 720,-0.75, 750,-0.85, 780,-0.7, 810,-0.8, 840,-0.7, 870,-0.75, 900,-0.65, 930,-0.75, 960,-0.6, 1000,-0.65],
  [0,-7, 3,-0.4, 18,-0.25, 40,-0.45, 68,-0.25, 100,-0.45, 136,-0.3, 176,-0.4, 216,-0.15, 256,-0.25, 296,-0.5, 326,-0.4, 356,-0.55, 386,-0.45, 416,-0.55, 446,-0.4, 476,-0.5, 506,-0.35, 536,-0.45, 566,-0.3, 596,-0.4, 626,-0.25, 656,-0.35, 686,-0.25, 716,-0.15, 746,-0.25, 776,-0.15, 806,-0.2, 836,-0.1, 866,-0.2, 896,-0.1, 926,-0.15, 956,-0.05, 1000,-0.1],
  [0,-7, 4,-0.65, 22,-0.5, 48,-0.7, 78,-0.5, 112,-0.7, 150,-0.5, 190,-0.6, 230,-0.45, 270,-0.6, 305,-0.85, 335,-0.75, 365,-0.85, 395,-0.75, 425,-0.9, 455,-0.75, 485,-0.85, 515,-0.6, 545,-0.7, 575,-0.55, 605,-0.65, 635,-0.55, 665,-0.65, 695,-0.55, 715,-0.4, 745,-0.5, 775,-0.4, 805,-0.45, 835,-0.35, 865,-0.45, 895,-0.35, 925,-0.4, 955,-0.3, 1000,-0.35],
  [0,-7, 6,-1.45, 30,-1.3, 60,-1.5, 95,-1.3, 135,-1.5, 175,-1.35, 215,-1.5, 255,-1.4, 295,-1.6, 330,-1.75, 360,-1.65, 390,-1.75, 420,-1.6, 450,-1.75, 480,-1.6, 510,-1.7, 540,-1.35, 570,-1.45, 600,-1.3, 630,-1.4, 660,-1.25, 690,-1.35, 720,-1.05, 750,-1.15, 780,-1.0, 810,-1.1, 840,-0.95, 870,-1.05, 900,-0.9, 930,-1.0, 960,-0.85, 1000,-0.9],
  [0,-7, 2,0.1, 18,0.25, 40,0.05, 68,0.25, 100,0.05, 136,0.25, 176,0.15, 216,0.45, 256,0.3, 290,0.1, 320,0.2, 350,0.05, 380,0.2, 410,0.1, 440,0.25, 470,0.1, 500,0.2, 530,0.1, 560,0.25, 590,0.15, 620,0.3, 650,0.2, 680,0.3, 710,0.2, 740,0.35, 770,0.25, 800,0.35, 830,0.25, 860,0.4, 890,0.3, 920,0.4, 950,0.3, 1000,0.4],
];

const declining = [
  [0,-7, 6,-1.2, 30,-1.3, 80,-1.45, 130,-1.6, 180,-1.8, 230,-2.0, 280,-2.15, 330,-2.3, 380,-2.4, 430,-2.5, 480,-2.55, 540,-2.5, 600,-2.4, 700,-2.3, 710,-1.8, 800,-1.7, 1000,-1.6],
  [0,-7, 5,-1.0, 25,-1.15, 70,-1.35, 120,-1.5, 170,-1.7, 220,-1.85, 270,-2.05, 320,-2.2, 370,-2.35, 420,-2.45, 470,-2.5, 520,-2.45, 530,-1.9, 600,-1.8, 700,-1.75, 850,-1.65, 1000,-1.55],
  [0,-7, 8,-1.5, 40,-1.6, 90,-1.8, 140,-2.0, 190,-2.2, 240,-2.35, 290,-2.5, 340,-2.6, 400,-2.7, 460,-2.75, 520,-2.7, 580,-2.75, 640,-2.8, 700,-2.75, 800,-2.7, 900,-2.65, 1000,-2.6],
  [0,-7, 7,-1.3, 35,-1.35, 85,-1.55, 135,-1.75, 185,-1.95, 235,-2.15, 285,-2.3, 335,-2.45, 385,-2.55, 440,-2.65, 500,-2.6, 560,-2.6, 600,-2.5, 700,-2.45, 705,-1.6, 800,-1.5, 1000,-1.4],
  [0,-7, 4,-0.9, 20,-1.05, 60,-1.2, 110,-1.35, 160,-1.5, 210,-1.65, 260,-1.8, 310,-1.95, 360,-2.05, 410,-2.15, 460,-2.2, 500,-2.15, 505,-1.4, 600,-1.3, 700,-1.25, 850,-1.2, 1000,-1.15],
  [0,-7, 10,-1.7, 50,-1.85, 100,-2.0, 150,-2.2, 200,-2.4, 250,-2.55, 300,-2.7, 350,-2.8, 400,-2.85, 450,-2.9, 500,-2.85, 560,-3.0, 600,-3.05, 700,-3.1, 800,-3.05, 850,-3.2, 900,-3.1, 1000,-2.95],
  [0,-7, 6,-1.1, 28,-1.25, 75,-1.4, 125,-1.55, 175,-1.75, 225,-1.9, 275,-2.05, 325,-2.15, 375,-2.25, 425,-2.3, 475,-2.35, 525,-2.3, 575,-2.25, 625,-2.2, 700,-2.1, 705,-1.5, 800,-1.4, 1000,-1.3],
  [0,-7, 9,-1.4, 45,-1.5, 95,-1.7, 145,-1.9, 195,-2.1, 245,-2.3, 295,-2.45, 345,-2.55, 395,-2.65, 445,-2.7, 495,-2.6, 545,-2.55, 560,-2.0, 650,-1.9, 750,-1.85, 1000,-1.75],
  [0,-7, 5,-0.95, 22,-1.1, 65,-1.25, 115,-1.4, 165,-1.55, 215,-1.7, 265,-1.85, 315,-2.0, 365,-2.1, 415,-2.2, 470,-2.25, 530,-2.2, 590,-2.15, 650,-2.1, 700,-2.05, 710,-1.3, 800,-1.2, 1000,-1.1],
  [0,-7, 12,-1.9, 55,-2.0, 105,-2.15, 155,-2.35, 205,-2.5, 255,-2.65, 305,-2.8, 355,-2.9, 405,-2.95, 455,-3.0, 505,-2.95, 555,-2.9, 600,-2.6, 650,-2.55, 720,-2.5, 850,-2.45, 1000,-2.4],
  [0,-7, 5,-0.85, 25,-1.0, 60,-1.1, 100,-1.25, 150,-1.4, 200,-1.5, 250,-1.6, 300,-1.75, 350,-1.85, 400,-1.9, 450,-1.95, 500,-1.9, 520,-1.5, 600,-1.4, 700,-1.35, 720,-1.1, 850,-1.05, 1000,-1.0],
  [0,-7, 7,-1.25, 40,-1.4, 90,-1.6, 140,-1.8, 190,-2.0, 240,-2.15, 290,-2.3, 340,-2.4, 390,-2.5, 440,-2.55, 500,-2.5, 560,-2.45, 620,-2.4, 700,-2.35, 720,-1.9, 850,-1.8, 1000,-1.7],
  [0,-7, 6,-1.05, 30,-1.2, 80,-1.3, 130,-1.45, 180,-1.6, 230,-1.75, 280,-1.9, 330,-2.0, 380,-2.05, 430,-2.1, 480,-2.05, 540,-2.0, 600,-1.95, 700,-1.85, 710,-1.25, 850,-1.15, 1000,-1.1],
  [0,-7, 8,-1.6, 40,-1.7, 90,-1.85, 140,-2.05, 200,-2.3, 260,-2.5, 320,-2.7, 380,-2.85, 440,-2.95, 500,-3.0, 560,-2.95, 620,-3.0, 700,-2.9, 705,-2.2, 800,-2.1, 1000,-2.0],
  [0,-7, 4,-0.75, 18,-0.95, 50,-1.05, 95,-1.2, 145,-1.3, 195,-1.4, 245,-1.5, 295,-1.65, 345,-1.75, 395,-1.8, 445,-1.85, 495,-1.8, 505,-1.2, 600,-1.1, 700,-1.05, 800,-0.95, 1000,-0.9],
  [0,-7, 10,-2.0, 40,-2.2, 80,-2.5, 120,-2.75, 160,-2.95, 200,-3.2, 240,-3.3, 290,-3.35, 350,-3.3, 400,-3.25, 450,-3.2, 500,-3.1, 520,-2.6, 600,-2.5, 700,-2.45, 1000,-2.3],
  [0,-7, 9,-1.8, 35,-2.0, 75,-2.2, 120,-2.45, 160,-2.65, 200,-2.85, 250,-3.0, 300,-3.1, 350,-3.05, 400,-3.0, 430,-2.5, 500,-2.3, 600,-2.2, 700,-2.1, 1000,-2.0],
  [0,-7, 6,-1.5, 30,-1.55, 70,-1.75, 110,-1.95, 150,-2.1, 200,-2.35, 250,-2.5, 300,-2.65, 350,-2.75, 400,-2.8, 450,-2.75, 480,-2.2, 550,-2.05, 650,-1.95, 800,-1.85, 1000,-1.8],
  [0,-7, 4,-1.3, 12,-1.1, 21,-1.35, 31,-1.15, 42,-1.4, 54,-1.2, 67,-1.45, 81,-1.25, 96,-1.5, 112,-1.3, 129,-1.55, 147,-1.4, 166,-1.6, 186,-1.5, 207,-1.7, 230,-1.7, 255,-1.85, 280,-1.95, 310,-2.05, 360,-2.15, 410,-2.2, 460,-2.25, 510,-2.2, 560,-2.1, 600,-1.6, 680,-1.5, 760,-1.45, 880,-1.4, 1000,-1.35],
  [0,-7, 5,-1.6, 14,-1.4, 24,-1.65, 35,-1.45, 47,-1.7, 60,-1.55, 74,-1.75, 89,-1.6, 105,-1.85, 122,-1.7, 140,-1.95, 159,-1.85, 179,-2.05, 200,-2.0, 222,-2.2, 246,-2.25, 271,-2.4, 297,-2.5, 330,-2.6, 380,-2.7, 430,-2.65, 480,-2.7, 530,-2.6, 540,-2.0, 620,-1.85, 700,-1.8, 720,-1.45, 850,-1.35, 1000,-1.3],
  [0,-7, 3,-1.05, 10,-1.25, 18,-1.0, 27,-1.25, 37,-1.05, 48,-1.3, 60,-1.1, 73,-1.35, 87,-1.15, 102,-1.4, 118,-1.25, 135,-1.45, 153,-1.3, 172,-1.5, 192,-1.45, 213,-1.6, 236,-1.65, 260,-1.75, 285,-1.85, 315,-1.95, 360,-2.0, 410,-2.05, 460,-2.1, 500,-2.0, 510,-1.5, 580,-1.4, 660,-1.35, 720,-1.1, 820,-1.0, 1000,-0.95],
  [0,-7, 6,-2.2, 16,-2.0, 27,-2.25, 39,-2.1, 52,-2.35, 66,-2.2, 81,-2.45, 97,-2.35, 114,-2.6, 132,-2.55, 151,-2.75, 171,-2.75, 192,-2.95, 215,-3.0, 240,-3.15, 266,-3.2, 293,-3.3, 330,-3.35, 380,-3.4, 430,-3.45, 480,-3.4, 520,-3.35, 560,-3.4, 600,-3.3, 650,-3.3, 700,-3.25, 720,-2.8, 800,-2.7, 1000,-2.6],
  [0,-7, 5,-1.9, 15,-1.7, 26,-1.95, 38,-1.8, 51,-2.05, 65,-1.9, 80,-2.15, 96,-2.05, 113,-2.3, 131,-2.25, 150,-2.45, 170,-2.45, 191,-2.65, 214,-2.7, 238,-2.85, 263,-2.9, 290,-3.0, 320,-3.1, 370,-3.15, 420,-3.2, 470,-3.15, 520,-3.1, 560,-2.6, 640,-2.45, 720,-2.3, 850,-2.2, 1000,-2.1],
  [0,-7, 7,-2.5, 18,-2.35, 30,-2.6, 43,-2.5, 57,-2.75, 72,-2.7, 88,-2.9, 105,-2.9, 123,-3.05, 142,-3.1, 162,-3.2, 183,-3.3, 205,-3.4, 230,-3.45, 256,-3.5, 283,-3.55, 312,-3.6, 350,-3.6, 400,-3.55, 450,-3.65, 500,-3.7, 550,-3.6, 600,-3.65, 650,-3.5, 700,-3.4, 750,-3.35, 800,-3.3, 900,-3.25, 1000,-3.2],
  [0,-7, 4,-1.2, 14,-1.45, 25,-1.2, 37,-1.5, 50,-1.25, 64,-1.55, 79,-1.3, 95,-1.6, 112,-1.4, 130,-1.65, 149,-1.5, 169,-1.75, 190,-1.65, 212,-1.85, 235,-1.8, 260,-2.0, 286,-2.05, 315,-2.2, 360,-2.3, 410,-2.35, 460,-2.4, 500,-2.3, 510,-1.75, 580,-1.65, 660,-1.6, 720,-1.3, 820,-1.2, 1000,-1.15],
  [0,-7, 6,-1.75, 17,-2.0, 29,-1.8, 42,-2.1, 56,-1.9, 71,-2.2, 87,-2.05, 104,-2.35, 122,-2.25, 141,-2.5, 161,-2.45, 182,-2.65, 204,-2.7, 228,-2.85, 253,-2.9, 280,-3.05, 310,-3.1, 350,-3.2, 400,-3.25, 450,-3.2, 500,-3.25, 540,-3.15, 580,-3.2, 620,-3.1, 680,-3.05, 720,-2.6, 800,-2.5, 1000,-2.4],
];

const lateStart = [
  [22,-3.7, 23,-2.0, 26,-1.2, 40,-0.9, 80,-0.85, 140,-1.0, 200,-1.1, 280,-1.3, 360,-1.5, 450,-1.55, 550,-1.4, 700,-1.3, 1000,-1.2],
  [28,-3.9, 29,-2.2, 33,-1.3, 50,-1.1, 100,-1.15, 170,-1.3, 250,-1.45, 330,-1.65, 420,-1.8, 520,-1.75, 700,-1.6, 1000,-1.5],
  [38.5,-3.75, 40,-2.0, 44,-1.0, 70,-0.8, 120,-0.85, 190,-0.95, 260,-1.05, 340,-1.2, 440,-1.25, 560,-1.1, 720,-0.95, 1000,-0.85],
  [45.5,-7, 46.5,-3.0, 49,-1.5, 60,-1.1, 110,-1.2, 180,-1.4, 260,-1.6, 350,-1.8, 450,-1.95, 560,-1.9, 700,-1.7, 1000,-1.55],
  [77,-4.45, 78,-2.5, 81,-1.4, 95,-1.0, 150,-0.95, 220,-1.05, 300,-1.25, 400,-1.35, 520,-1.3, 700,-1.2, 1000,-1.05],
  [98,-4.8, 99,-2.6, 102,-1.5, 120,-1.2, 180,-1.3, 260,-1.45, 350,-1.65, 460,-1.75, 600,-1.6, 800,-1.45, 1000,-1.4],
  [100,-5.35, 103,-4.4, 108,-4.1, 116,-4.0, 117.5,-2.5, 120,-1.6, 140,-1.3, 200,-1.35, 280,-1.55, 380,-1.75, 500,-1.8, 700,-1.55, 1000,-1.45],
  [140,-4.25, 141,-2.5, 144,-1.5, 165,-1.2, 220,-1.25, 300,-1.5, 400,-1.7, 520,-1.75, 700,-1.5, 1000,-1.4],
  [150,-4.1, 151,-2.6, 154,-1.7, 175,-1.4, 240,-1.5, 320,-1.75, 420,-1.95, 540,-1.9, 720,-1.6, 1000,-1.5],
  [164,-5.0, 165,-3.0, 168,-1.8, 185,-1.3, 240,-1.25, 320,-1.45, 420,-1.6, 540,-1.55, 700,-1.4, 1000,-1.3],
  [180,-3.75, 181,-2.4, 184,-1.5, 205,-1.2, 260,-1.3, 340,-1.55, 440,-1.7, 560,-1.6, 720,-1.4, 1000,-1.3],
  [212,-4.35, 213,-2.6, 216,-1.6, 235,-1.3, 290,-1.45, 370,-1.7, 470,-1.85, 600,-1.8, 750,-1.55, 1000,-1.45],
  [220,-7, 221.5,-3.5, 225,-2.0, 240,-1.6, 300,-1.75, 380,-2.0, 480,-2.1, 600,-2.0, 750,-1.75, 1000,-1.6],
  [228,-5.8, 229.5,-3.5, 233,-2.1, 250,-1.7, 310,-1.9, 400,-2.1, 500,-2.2, 620,-2.05, 760,-1.8, 1000,-1.7],
  [252,-3.83, 253,-2.4, 256,-1.7, 275,-1.45, 330,-1.6, 420,-1.8, 520,-1.85, 650,-1.7, 800,-1.5, 1000,-1.4],
  [256,-4.93, 257.5,-3.2, 261,-2.1, 280,-1.75, 340,-1.95, 430,-2.15, 540,-2.2, 680,-2.0, 850,-1.8, 1000,-1.75],
  [264,-4.2, 265,-2.8, 268,-2.0, 290,-1.7, 350,-1.85, 440,-2.0, 560,-2.0, 700,-1.8, 1000,-1.6],
  [268,-3.93, 269.5,-3.65, 275,-3.6, 290,-3.55, 320,-3.5, 360,-3.3, 380,-3.0, 400,-2.8, 450,-2.7, 550,-2.65, 650,-2.55, 720,-2.0, 850,-1.9, 1000,-1.85],
  [284,-4.6, 285.5,-3.0, 289,-2.2, 310,-1.9, 370,-2.05, 460,-2.2, 580,-2.2, 720,-1.95, 1000,-1.8],
  [305,-5.2, 307,-3.4, 311,-2.5, 330,-2.1, 390,-2.2, 470,-2.35, 580,-2.3, 720,-2.0, 1000,-1.85],
  [310,-7, 312,-4.0, 317,-2.9, 335,-2.5, 390,-2.45, 470,-2.55, 560,-2.5, 700,-2.3, 720,-1.9, 1000,-1.8],
  [342,-7, 344,-4.2, 349,-3.0, 365,-2.5, 420,-2.4, 500,-2.5, 600,-2.4, 720,-2.1, 1000,-1.95],
  [350,-5.3, 352,-3.8, 358,-3.0, 380,-2.6, 440,-2.6, 520,-2.7, 600,-2.6, 700,-2.5, 720,-2.0, 1000,-1.9],
  [337,-4.6, 339,-3.5, 345,-2.8, 370,-2.4, 430,-2.3, 520,-2.35, 620,-2.2, 720,-2.0, 1000,-1.85],
  [356,-7, 358,-4.5, 364,-3.3, 385,-2.7, 440,-2.55, 520,-2.6, 620,-2.5, 720,-2.2, 1000,-2.0],
  [363,-5.3, 365,-3.9, 371,-3.0, 395,-2.55, 460,-2.5, 540,-2.45, 640,-2.35, 720,-2.1, 1000,-1.9],
  [384,-7, 386,-4.5, 392,-3.4, 415,-2.8, 470,-2.6, 540,-2.55, 640,-2.45, 720,-2.15, 1000,-2.0],
  [399,-5.0, 401,-3.8, 407,-3.0, 430,-2.6, 490,-2.5, 570,-2.5, 680,-2.4, 720,-2.0, 1000,-1.9],
  [408,-7, 410,-4.6, 416,-3.5, 440,-2.9, 500,-2.7, 580,-2.65, 680,-2.55, 760,-2.3, 1000,-2.1],
  [437,-7, 439,-4.8, 445,-3.7, 470,-3.1, 530,-2.9, 600,-2.85, 700,-2.7, 720,-2.2, 1000,-2.05],
  [447,-6.2, 449,-4.5, 455,-3.5, 480,-2.9, 540,-2.7, 620,-2.6, 720,-2.3, 1000,-2.1],
  [459,-5.27, 461,-4.0, 467,-3.2, 490,-2.75, 550,-2.6, 630,-2.55, 720,-2.2, 1000,-2.0],
  [469,-7, 471,-4.7, 477,-3.6, 500,-3.0, 560,-2.8, 640,-2.75, 720,-2.4, 1000,-2.2],
  [475,-7, 477,-4.6, 483,-3.4, 505,-2.8, 570,-2.6, 650,-2.55, 720,-2.15, 1000,-2.0],
  [482,-7, 484,-4.8, 490,-3.7, 515,-3.1, 580,-2.9, 660,-2.85, 720,-2.5, 1000,-2.3],
  [492,-7, 494,-4.5, 500,-3.4, 525,-2.8, 590,-2.6, 680,-2.5, 720,-2.1, 1000,-1.95],
  [500,-7, 502,-4.7, 508,-3.6, 530,-3.0, 590,-2.8, 670,-2.75, 720,-2.4, 1000,-2.2],
  [507,-7, 509,-4.9, 515,-3.8, 540,-3.2, 600,-3.0, 680,-2.9, 720,-2.6, 1000,-2.4],
  [521,-4.1, 523,-3.4, 530,-2.9, 560,-2.6, 620,-2.5, 700,-2.45, 720,-2.1, 1000,-1.95],
  [527,-4.8, 529,-3.9, 536,-3.2, 560,-2.8, 620,-2.6, 700,-2.55, 760,-2.3, 1000,-2.1],
  [535,-7, 537,-4.8, 544,-3.7, 570,-3.1, 630,-2.85, 700,-2.8, 720,-2.5, 1000,-2.3],
  [541,-7, 543,-5.0, 550,-3.9, 575,-3.3, 640,-3.05, 710,-3.0, 800,-2.8, 1000,-2.6],
  [561,-4.25, 563,-3.5, 570,-3.0, 600,-2.7, 660,-2.6, 720,-2.3, 1000,-2.1],
  [566,-4.25, 568,-3.6, 575,-3.1, 600,-2.85, 660,-2.75, 720,-2.4, 1000,-2.2],
  [609,-4.1, 611,-3.4, 618,-2.9, 645,-2.6, 700,-2.5, 720,-2.2, 1000,-2.0],
  [621,-4.1, 623,-3.5, 630,-3.0, 660,-2.7, 710,-2.65, 800,-2.4, 1000,-2.2],
  [627,-7, 629,-4.8, 636,-3.7, 665,-3.1, 710,-2.9, 800,-2.7, 1000,-2.5],
  [636,-7, 638,-5.0, 645,-3.9, 675,-3.3, 720,-3.1, 820,-2.9, 1000,-2.7],
  [651,-4.7, 653,-3.8, 660,-3.1, 690,-2.8, 740,-2.7, 850,-2.5, 1000,-2.4],
  [653,-7, 655,-4.9, 662,-3.8, 690,-3.2, 740,-3.0, 850,-2.8, 1000,-2.7],
  [667,-3.83, 669,-3.3, 676,-2.9, 700,-2.6, 750,-2.5, 850,-2.4, 1000,-2.3],
  [681,-7, 683,-5.0, 690,-3.9, 715,-3.3, 760,-3.1, 860,-2.9, 1000,-2.8],
  [620,-7, 623,-5.2, 630,-4.75, 690,-4.65, 700,-4.2, 705,-3.5, 720,-3.2, 800,-3.1, 1000,-3.0],
  [708,-7, 710,-5.2, 717,-4.1, 740,-3.5, 800,-3.2, 900,-3.0, 1000,-2.9],
  [752,-7, 754,-5.0, 761,-4.0, 785,-3.5, 850,-3.2, 950,-3.0, 1000,-2.95],
  [756,-3.5, 758,-3.1, 765,-2.8, 790,-2.6, 860,-2.5, 1000,-2.4],
  [792,-7, 794,-5.2, 801,-4.2, 830,-3.6, 900,-3.3, 1000,-3.1],
  [832,-7, 834,-5.3, 841,-4.3, 870,-3.7, 930,-3.5, 1000,-3.4],
  [881,-7, 883,-5.5, 890,-4.5, 915,-4.0, 960,-3.8, 1000,-3.7],
  [931,-7, 933,-5.6, 940,-4.6, 965,-4.1, 1000,-3.95],
  [930,-7, 932,-5.2, 938,-4.0, 945,-3.2, 960,-3.0, 1000,-2.9],
  [965,-7, 968,-5.5, 975,-4.6, 990,-4.0, 1000,-3.8],
  [985,-7, 988,-5.6, 995,-4.8, 1000,-4.5],
];

const lateRisers = [
  [0,-7, 3,0.0, 12,0.4, 25,0.2, 40,0.5, 60,0.3, 80,0.6, 110,0.4, 140,0.6, 170,0.8, 200,1.0, 230,1.05, 260,0.8, 290,0.45, 320,0.25, 380,0.2, 450,0.15, 520,0.2, 580,0.3, 640,0.5, 700,0.7, 760,0.9, 820,1.05, 880,1.2, 940,1.3, 1000,1.38],
  [0,-7, 2,-0.2, 8,0.3, 20,0.1, 40,0.4, 60,0.2, 90,0.5, 120,0.3, 150,0.5, 180,0.7, 210,0.85, 240,0.8, 270,0.5, 300,0.2, 350,0.1, 420,0.1, 500,0.2, 560,0.35, 620,0.55, 680,0.75, 740,0.9, 820,1.05, 900,1.17, 1000,1.3],
  [0,-7, 3,-0.1, 15,0.3, 35,0.0, 55,0.4, 75,0.2, 100,0.4, 130,0.3, 160,0.5, 190,0.6, 220,0.75, 250,0.6, 280,0.3, 310,0.05, 350,-0.05, 420,0.0, 520,0.05, 600,0.15, 680,0.3, 760,0.5, 850,0.7, 930,0.9, 1000,1.05],
  [0,-7, 5,-0.3, 50,-0.2, 100,-0.3, 200,0.0, 250,-0.1, 300,-0.3, 400,-0.35, 500,-0.2, 600,0.1, 700,0.35, 800,0.6, 900,0.8, 1000,0.97],
  [0,-7, 4,-0.5, 60,-0.4, 150,-0.45, 230,-0.2, 300,-0.4, 420,-0.45, 520,-0.3, 620,-0.1, 720,0.15, 820,0.4, 920,0.65, 1000,0.83],
  [0,-7, 6,-0.6, 80,-0.5, 180,-0.55, 260,-0.4, 330,-0.55, 450,-0.5, 560,-0.35, 660,-0.1, 760,0.15, 860,0.35, 1000,0.55],
  [0,-7, 3,-0.1, 60,0.0, 140,0.1, 220,0.4, 290,0.1, 380,0.0, 480,0.05, 560,0.25, 640,0.45, 720,0.7, 800,0.9, 900,1.05, 1000,1.12],
  [0,-7, 5,-0.4, 70,-0.3, 160,-0.35, 240,-0.1, 310,-0.35, 420,-0.4, 500,-0.35, 580,-0.2, 700,0.0, 800,0.2, 900,0.35, 1000,0.45],
];

// ---------- LAYOUT ----------
const W = 1212;
const H = 816;
const PL = 140, PR = 1150, PT = 40.7, PB = 689.6;
const FONT = "'Liberation Sans', Arial, Helvetica, sans-serif";

const toPoints = (flat: number[]) => {
  const pts: [number, number][] = [];
  for (let i = 0; i < flat.length; i += 2) pts.push([flat[i] * 1000, Math.pow(10, flat[i + 1])]);
  return pts;
};

export default function App() {
  const x = d3.scaleLinear().domain([0, 1000000]).range([PL, PR]);
  const y = d3.scaleLog().domain([1e-6, 1e3]).range([PB, PT]);
  const line = d3
    .line<[number, number]>()
    .x((d) => x(d[0]))
    .y((d) => y(Math.max(d[1], 1e-8)));

  const grayAll = [...lateStart, ...declining, ...bandMiddle, ...bandDense, ...bandLate, ...highEarly, ...spikyEarly, ...lateRisers];

  const stats = [
    { label: legendLabels[0], data: meanSeries, color: "#ff0000" },
    { label: legendLabels[1], data: medianSeries, color: "#1a6cf0" },
    { label: legendLabels[2], data: p95Series, color: "#007f00" },
    { label: legendLabels[3], data: p5Series, color: "#f0900a" },
  ];

  const majorX = xTickValues;
  const minorX = d3.range(0, 1000001, 40000).filter((v) => v % 200000 !== 0);
  const minorY: number[] = [];
  yDecades.slice(0, -1).forEach((e) => {
    for (let k = 2; k <= 9; k++) minorY.push(k * Math.pow(10, e));
  });

  const gridColor = "#8c8c8c";

  return (
    <svg width={W} height={H} style={{ position: "absolute", left: 0, top: 0, background: "#fff" }} fontFamily={FONT}>
      <defs>
        <clipPath id="plotClip">
          <rect x={PL} y={PT} width={PR - PL} height={PB - PT} />
        </clipPath>
      </defs>
      <rect x={0} y={0} width={W} height={H} fill="#fff" />

      {/* title */}
      <text x={(PL + PR) / 2 + 1} y={27} textAnchor="middle" fontSize={22} fill="#000" textLength={1020} lengthAdjust="spacingAndGlyphs">
        {titleText}
      </text>

      {/* realizations */}
      <g clipPath="url(#plotClip)" fill="none" stroke="#a3a3a3" strokeWidth={1.5} strokeLinejoin="round">
        {grayAll.map((c, i) => (
          <path key={i} d={line(toPoints(c)) || ""} />
        ))}
      </g>

      {/* grid */}
      <g stroke={gridColor} strokeWidth={1.2}>
        {majorX.slice(1, -1).map((v) => (
          <line key={"gx" + v} x1={x(v)} x2={x(v)} y1={PT} y2={PB} />
        ))}
        {yDecades.slice(1, -1).map((e) => (
          <line key={"gy" + e} x1={PL} x2={PR} y1={y(Math.pow(10, e))} y2={y(Math.pow(10, e))} />
        ))}
      </g>

      {/* statistics */}
      <g clipPath="url(#plotClip)" fill="none" strokeWidth={4} strokeLinejoin="round" strokeLinecap="round">
        {stats.map((s) => (
          <path key={s.label} d={line(toPoints(s.data)) || ""} stroke={s.color} />
        ))}
      </g>

      {/* ticks */}
      <g stroke="#000" strokeWidth={1.5}>
        {majorX.map((v) => (
          <g key={"mx" + v}>
            <line x1={x(v)} x2={x(v)} y1={PB - 13} y2={PB + 14} />
            <line x1={x(v)} x2={x(v)} y1={PT} y2={PT + 14} />
          </g>
        ))}
        {minorX.map((v) => (
          <g key={"nx" + v}>
            <line x1={x(v)} x2={x(v)} y1={PB - 9} y2={PB} />
            <line x1={x(v)} x2={x(v)} y1={PT} y2={PT + 9} />
          </g>
        ))}
        {yDecades.map((e) => (
          <g key={"my" + e}>
            <line x1={PL - 14} x2={PL + 15} y1={y(Math.pow(10, e))} y2={y(Math.pow(10, e))} />
            <line x1={PR - 15} x2={PR} y1={y(Math.pow(10, e))} y2={y(Math.pow(10, e))} />
          </g>
        ))}
        {minorY.map((v, i) => (
          <g key={"ny" + i}>
            <line x1={PL} x2={PL + 8} y1={y(v)} y2={y(v)} />
            <line x1={PR - 8} x2={PR} y1={y(v)} y2={y(v)} />
          </g>
        ))}
      </g>

      {/* frame */}
      <rect x={PL} y={PT} width={PR - PL} height={PB - PT} fill="none" stroke="#000" strokeWidth={3} />

      {/* x tick labels */}
      <g fontSize={27} textAnchor="middle" fill="#000">
        {majorX.map((v) => (
          <text key={"lx" + v} x={x(v)} y={743}>
            {String(v)}
          </text>
        ))}
      </g>

      {/* y tick labels */}
      <g fill="#000">
        {yDecades.map((e) => (
          <text key={"ly" + e} x={112} y={y(Math.pow(10, e)) + 9} textAnchor="end" fontSize={24}>
            10
            <tspan fontSize={16} dy={-11}>
              {String(e)}
            </tspan>
          </text>
        ))}
      </g>

      {/* axis titles */}
      <text x={646} y={804} textAnchor="middle" fontSize={33} fill="#000">
        Time (years)
      </text>
      <text transform="translate(39, 343) rotate(-90)" textAnchor="middle" fontSize={33} fill="#000" textLength={510} lengthAdjust="spacingAndGlyphs">
        Expected Annual Dose (mrem)
      </text>

      {/* legend */}
      <g>
        <rect x={841} y={510} width={289} height={166} fill="#fff" stroke="#000" strokeWidth={1.3} />
        {stats.map((s, i) => (
          <g key={"lg" + s.label}>
            <line x1={861} x2={924} y1={545 + i * 32} y2={545 + i * 32} stroke={s.color} strokeWidth={4} strokeLinecap="round" />
            <text x={939} y={553 + i * 32} fontSize={24} fill="#000">
              {s.label}
            </text>
          </g>
        ))}
      </g>
    </svg>
  );
}
